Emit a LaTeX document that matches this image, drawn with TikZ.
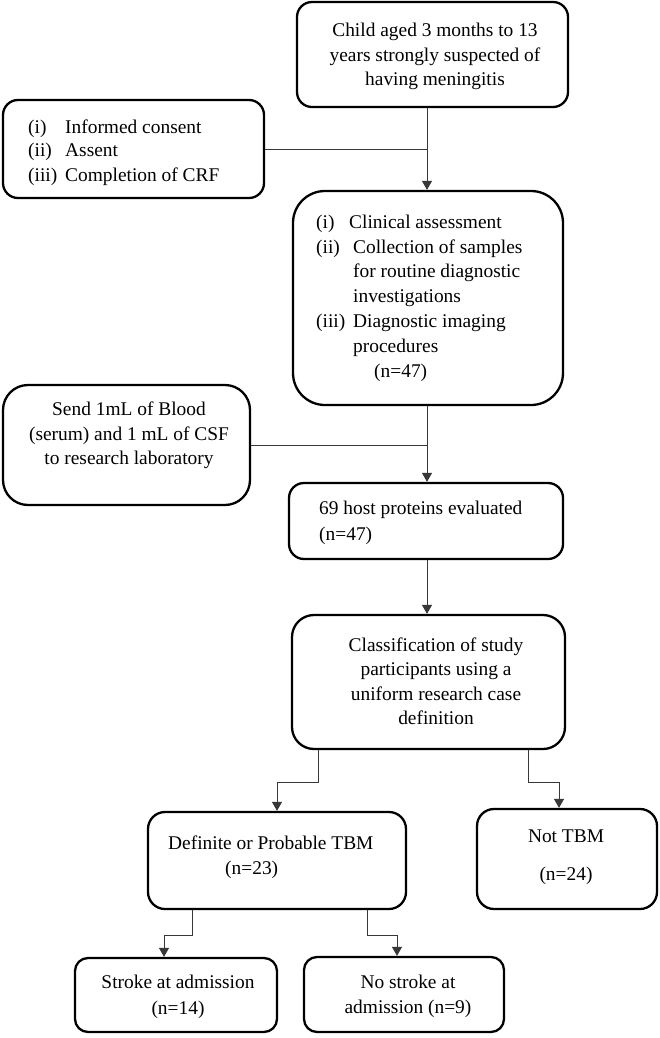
\documentclass[tikz,border=0pt]{standalone}
\usepackage{fontspec}
\setmainfont{Liberation Serif}
\usetikzlibrary{arrows.meta,calc}
\begin{document}
\begin{tikzpicture}[x=1pt,y=-1pt,
  box/.style={draw=black, line width=2.3pt, fill=white, inner sep=0},
  conn/.style={draw=black!78, line width=1pt},
  arr/.style={conn, -{Triangle[length=9pt,width=10pt]}},
  txt/.style={inner sep=0, font=\fontsize{19.4}{24}\selectfont},
  tl/.style={txt, anchor=base west},
  tc/.style={txt, anchor=base}]
\useasboundingbox (0,0) rectangle (660,1038);
% boxes
\node[box, rounded corners=15pt, minimum width=271pt, minimum height=105pt] (top) at (432.5,54.5) {};
\node[box, rounded corners=15pt, minimum width=261pt, minimum height=98pt] (left1) at (133.5,149) {};
\node[box, rounded corners=32pt, minimum width=270pt, minimum height=214pt] (mid) at (428,298) {};
\node[box, rounded corners=25pt, minimum width=247pt, minimum height=120pt] (left2) at (126.5,445) {};
\node[box, rounded corners=15pt, minimum width=274pt, minimum height=76pt] (hp) at (426,521) {};
\node[box, rounded corners=22pt, minimum width=273pt, minimum height=134pt] (cls) at (428.5,682) {};
\node[box, rounded corners=17pt, minimum width=258pt, minimum height=97pt] (def) at (277,860.5) {};
\node[box, rounded corners=17pt, minimum width=180pt, minimum height=100pt] (ntb) at (567,859) {};
\node[box, rounded corners=13pt, minimum width=202pt, minimum height=74pt] (stk) at (176,995) {};
\node[box, rounded corners=13pt, minimum width=200pt, minimum height=75pt] (nsk) at (404,994.5) {};
% texts
\node[tc] (t1a) at (435,37) {Child aged 3 months to 13};
\node[tc] (t1b) at (435,62) {years strongly suspected of};
\node[tc] (t1c) at (435,86) {having meningitis};
\node[tl] (l1a) at (28,133) {(i)};
\node[tl] (l1b) at (28,157) {(ii)};
\node[tl] (l1c) at (28,181) {(iii)};
\node[tl] (l1d) at (65,133) {Informed consent};
\node[tl] (l1e) at (65,157) {Assent};
\node[tl] (l1f) at (65,181) {Completion of CRF};
\node[tl] (m1) at (316,228) {(i)};
\node[tl] (m2) at (349,228) {Clinical assessment};
\node[tl] (m3) at (316,253) {(ii)};
\node[tl] (m4) at (353,253) {Collection of samples};
\node[tl] (m5) at (353,277) {for routine diagnostic};
\node[tl] (m6) at (353,302) {investigations};
\node[tl] (m7) at (316,327) {(iii)};
\node[tl] (m8) at (353,327) {Diagnostic imaging};
\node[tl] (m9) at (353,352) {procedures};
\node[tl] (m10) at (374,377) {(n=47)};
\node[tc] (l2a) at (129,415) {Send 1mL of Blood};
\node[tc] (l2b) at (129,440) {(serum) and 1 mL of CSF};
\node[tc] (l2c) at (129,464) {to research laboratory};
\node[tl] (h1) at (319,514) {69 host proteins evaluated};
\node[tl] (h2) at (319,540) {(n=47)};
\node[tc] (c1) at (436,651) {Classification of study};
\node[tc] (c2) at (436,675) {participants using a};
\node[tc] (c3) at (436,700) {uniform research case};
\node[tc] (c4) at (436,724) {definition};
\node[tl] (d1) at (168,849) {Definite or Probable TBM};
\node[tl] (d2) at (225,874) {(n=23)};
\node[tc] (n1) at (566,842) {Not TBM};
\node[tc] (n2) at (566,880) {(n=24)};
\node[tc] (s1) at (178,988) {Stroke at admission};
\node[tc] (s2) at (178,1014) {(n=14)};
\node[tc] (ns1) at (408,988) {No stroke at};
\node[tc] (ns2) at (408,1013) {admission (n=9)};
% connectors
\coordinate (ax) at (427,0);
\draw[arr] (top.south -| ax) -- (mid.north -| ax);
\draw[conn] (left1.east) -- (left1.east -| ax);
\draw[arr] (mid.south -| ax) -- (hp.north -| ax);
\draw[conn] (left2.east) -- (left2.east -| ax);
\draw[arr] (hp.south -| ax) -- (cls.north -| ax);
\draw[arr] ([xshift=-110.5pt]cls.south) -- ++(0,32) -| (def.north);
\draw[arr] ([xshift=99.5pt]cls.south) -- ++(0,32) -| ([xshift=-8pt]ntb.north);
\draw[arr] ([xshift=-85pt]def.south) -- ++(0,25) -| ([xshift=-12pt]stk.north);
\draw[arr] ([xshift=90pt]def.south) -- ++(0,25) -| ([xshift=-7pt]nsk.north);
\end{tikzpicture}
\end{document}
